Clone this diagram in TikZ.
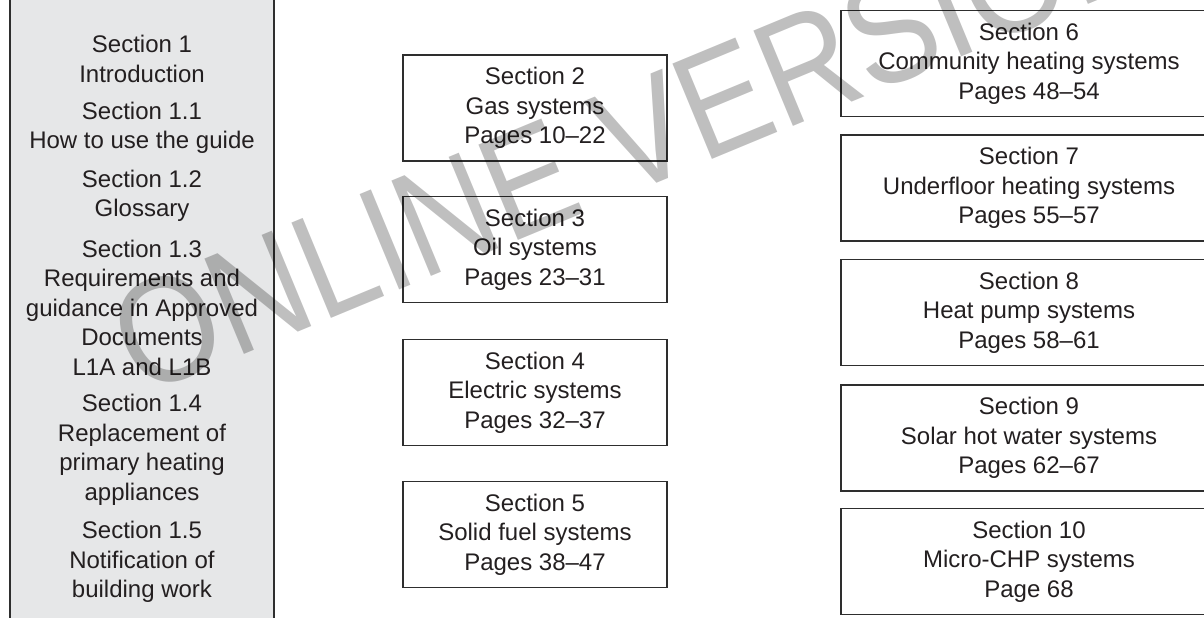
\documentclass[tikz,border=0pt]{standalone}
\usepackage{fontspec}
\setmainfont{Liberation Sans}
\definecolor{ink}{HTML}{231F20}
\definecolor{edge}{HTML}{2E2E2E}
\definecolor{panel}{HTML}{E6E7E8}
\begin{document}
\begin{tikzpicture}[x=1pt,y=-1pt,
  txt/.style={font=\fontsize{24}{29.5}\selectfont, text=ink, align=center, inner sep=0pt},
  secbox/.style={txt, draw=edge, line width=1.3pt, minimum height=106pt},
  midbox/.style={secbox, minimum width=264pt},
  sidebox/.style={secbox, minimum width=376pt},
  stamp/.style={font=\fontsize{150}{150}\selectfont, text=black, text opacity=0.25, inner sep=0pt, rotate=22.5}]
\useasboundingbox (0,0) rectangle (1204,618);
\clip (0,0) rectangle (1204,618);

% left panel: introduction sections
\draw[edge, line width=1.3pt, fill=panel] (10,-10) rectangle (274,630);
\node[txt] (s1)  at (142,59)    {Section 1\\Introduction};
\node[txt] (s11) at (142,128)   {Section 1.1\\How to use the guide};
\node[txt] (s12) at (142,196)   {Section 1.2\\Glossary};
\node[txt] (s13) at (142,307.5) {Section 1.3\\Requirements and\\guidance in Approved\\Documents\\L1A and L1B};
\node[txt] (s14) at (142,450)   {Section 1.4\\Replacement of\\primary heating\\appliances};
\node[txt] (s15) at (142,562)   {Section 1.5\\Notification of\\building work};

% middle column
\node[midbox] (s2) at (535,108)   {Section 2\\Gas systems\\Pages 10--22};
\node[midbox] (s3) at (535,249.5) {Section 3\\Oil systems\\Pages 23--31};
\node[midbox] (s4) at (535,392.5) {Section 4\\Electric systems\\Pages 32--37};
\node[midbox] (s5) at (535,534.5) {Section 5\\Solid fuel systems\\Pages 38--47};

% right column
\node[sidebox] (s6)  at (1029,63.5)  {Section 6\\Community heating systems\\Pages 48--54};
\node[sidebox] (s7)  at (1029,188)   {Section 7\\Underfloor heating systems\\Pages 55--57};
\node[sidebox] (s8)  at (1029,312.5) {Section 8\\Heat pump systems\\Pages 58--61};
\node[sidebox] (s9)  at (1029,438)   {Section 9\\Solar hot water systems\\Pages 62--67};
\node[sidebox] (s10) at (1029,561.5) {Section 10\\Micro-CHP systems\\Page 68};

% watermark
\node[stamp] (wm) at (633,137) {\scalebox{0.87}[1]{ONLINE VERSION}};
\end{tikzpicture}
\end{document}
